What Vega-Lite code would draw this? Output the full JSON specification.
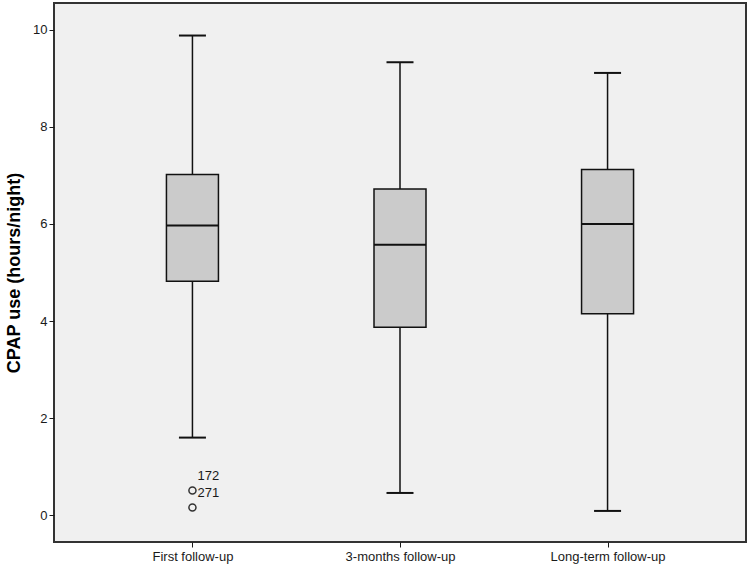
{
  "$schema": "https://vega.github.io/schema/vega-lite/v6.json",
  "autosize": "none",
  "width": 692,
  "height": 539,
  "padding": {"left": 54, "top": 3, "right": 3, "bottom": 27},
  "background": "white",
  "config": {
    "font": "Liberation Sans",
    "view": {"fill": "#f0f0f0", "stroke": "#333333", "strokeWidth": 2},
    "axis": {"labelFont": "Liberation Sans", "labelFontSize": 13, "labelColor": "#1a1a1a", "tickColor": "#1a1a1a", "domain": false, "grid": false, "tickSize": 5}
  },
  "datasets": {
    "stats": [
      {"group": "First follow-up", "lower": 1.6, "q1": 4.82, "median": 5.97, "q3": 7.02, "upper": 9.88},
      {"group": "3-months follow-up", "lower": 0.46, "q1": 3.87, "median": 5.57, "q3": 6.72, "upper": 9.33},
      {"group": "Long-term follow-up", "lower": 0.09, "q1": 4.15, "median": 6.0, "q3": 7.12, "upper": 9.11}
    ],
    "outliers": [
      {"group": "First follow-up", "value": 0.51, "id": "172"},
      {"group": "First follow-up", "value": 0.16, "id": "271"}
    ]
  },
  "encoding": {
    "x": {
      "field": "group", "type": "nominal",
      "sort": ["First follow-up", "3-months follow-up", "Long-term follow-up"],
      "scale": {"type": "point", "padding": 0.667},
      "axis": {"title": null, "labelAngle": 0, "labelPadding": 3}
    }
  },
  "layer": [
    {
      "data": {"name": "stats"},
      "mark": {"type": "rule", "color": "#111111", "strokeWidth": 1.5},
      "encoding": {
        "y": {"field": "lower", "type": "quantitative",
          "scale": {"domain": [-0.55, 10.55], "nice": false, "zero": false},
          "axis": {"values": [0, 2, 4, 6, 8, 10], "title": "CPAP use (hours/night)", "titleFontSize": 18, "titleFontWeight": "bold", "titleColor": "#000000", "titlePadding": 9, "labelPadding": 2}},
        "y2": {"field": "upper"}
      }
    },
    {
      "data": {"name": "stats"},
      "mark": {"type": "bar", "size": 52, "fill": "#cbcbcb", "stroke": "#111111", "strokeWidth": 1.5},
      "encoding": {
        "y": {"field": "q1", "type": "quantitative"},
        "y2": {"field": "q3"}
      }
    },
    {
      "data": {"name": "stats"},
      "mark": {"type": "tick", "size": 52, "thickness": 2, "color": "#111111", "opacity": 1},
      "encoding": {"y": {"field": "median", "type": "quantitative"}}
    },
    {
      "data": {"name": "stats"},
      "mark": {"type": "tick", "size": 27, "thickness": 2, "color": "#111111", "opacity": 1},
      "encoding": {"y": {"field": "upper", "type": "quantitative"}}
    },
    {
      "data": {"name": "stats"},
      "mark": {"type": "tick", "size": 27, "thickness": 2, "color": "#111111", "opacity": 1},
      "encoding": {"y": {"field": "lower", "type": "quantitative"}}
    },
    {
      "data": {"name": "outliers"},
      "mark": {"type": "point", "shape": "circle", "filled": false, "size": 50, "stroke": "#333333", "strokeWidth": 1.5, "opacity": 1},
      "encoding": {"y": {"field": "value", "type": "quantitative"}}
    },
    {
      "data": {"name": "outliers"},
      "mark": {"type": "text", "align": "left", "baseline": "middle", "dx": 5, "dy": -15, "fontSize": 13, "color": "#1a1a1a"},
      "encoding": {
        "y": {"field": "value", "type": "quantitative"},
        "text": {"field": "id"}
      }
    }
  ]
}
